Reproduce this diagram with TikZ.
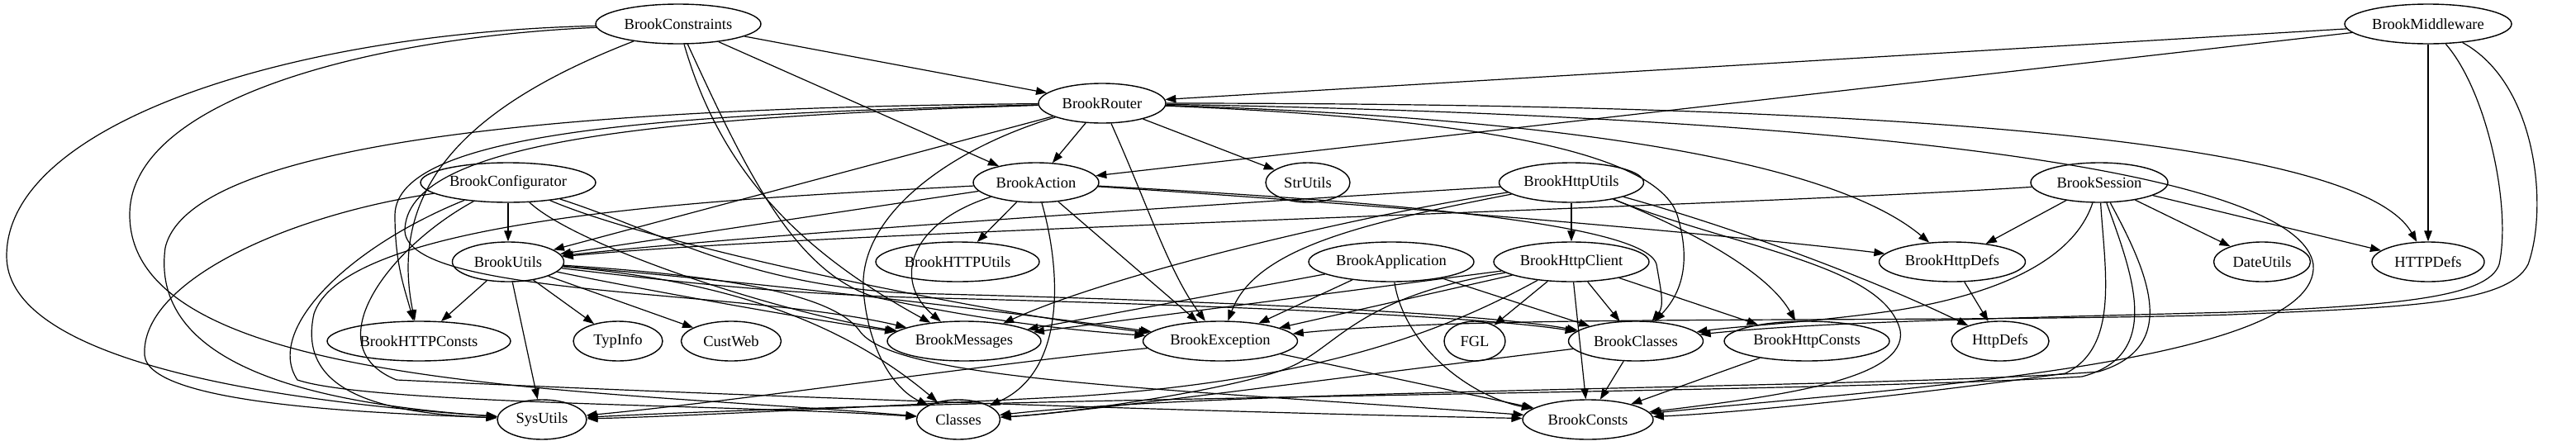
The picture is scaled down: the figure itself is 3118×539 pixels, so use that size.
\documentclass[tikz,border=0pt]{standalone}
\usepackage{fontspec}
\setmainfont{Liberation Serif}
\usetikzlibrary{shapes.geometric,arrows.meta}
\begin{document}
\begin{tikzpicture}[x=1pt,y=-1pt,
  nd/.style={draw,ellipse,line width=1.4pt,inner sep=0pt,minimum height=48pt,font=\fontsize{18.5}{20}\selectfont},
  e/.style={line width=1.2pt,-{Triangle[length=13pt,width=9.5pt]}}]
\useasboundingbox[fill=white] (0,0) rectangle (3118,539);
% nodes
\node[nd,minimum width=200pt] (C) at (821,29) {BrookConstraints};
\node[nd,minimum width=202pt] (M) at (2939,29) {BrookMiddleware};
\node[nd,minimum width=154pt] (R) at (1334,125) {BrookRouter};
\node[nd,minimum width=212pt] (F) at (615,221) {BrookConfigurator};
\node[nd,minimum width=152pt] (A) at (1254,221) {BrookAction};
\node[nd,minimum width=102pt] (SU) at (1583,221) {StrUtils};
\node[nd,minimum width=175pt] (H) at (1902,221) {BrookHttpUtils};
\node[nd,minimum width=166pt] (S) at (2541,221) {BrookSession};
\node[nd,minimum width=135pt] (U) at (615,317) {BrookUtils};
\node[nd,minimum width=198pt] (HU) at (1159,317) {BrookHTTPUtils};
\node[nd,minimum width=200pt] (P) at (1684,317) {BrookApplication};
\node[nd,minimum width=188pt] (K) at (1902,317) {BrookHttpClient};
\node[nd,minimum width=177pt] (HD) at (2363,317) {BrookHttpDefs};
\node[nd,minimum width=117pt] (DU) at (2738,317) {DateUtils};
\node[nd,minimum width=136pt] (TD) at (2939,317) {HTTPDefs};
\node[nd,minimum width=222pt] (HC) at (507,413) {BrookHTTPConsts};
\node[nd,minimum width=108pt] (TI) at (748,413) {TypInfo};
\node[nd,minimum width=121pt] (CW) at (885,413) {CustWeb};
\node[nd,minimum width=186pt] (MS) at (1167,413) {BrookMessages};
\node[nd,minimum width=187pt] (EX) at (1477,413) {BrookException};
\node[nd,minimum width=74pt] (FG) at (1785,413) {FGL};
\node[nd,minimum width=163pt] (BC) at (1980,413) {BrookClasses};
\node[nd,minimum width=200pt] (BHC) at (2187,413) {BrookHttpConsts};
\node[nd,minimum width=118pt] (HTD) at (2421,413) {HttpDefs};
\node[nd,minimum width=108pt] (SY) at (656,508) {SysUtils};
\node[nd,minimum width=101pt] (CL) at (1160,508) {Classes};
\node[nd,minimum width=158pt] (CO) at (1922,508) {BrookConsts};
% BrookConstraints
\draw[e] (C) -- (R);
\draw[e] (C) -- (A);
\draw[e] (C) .. controls (350,40) and (8,150) .. (8,310) .. controls (8,420) and (250,480) .. (SY);
\draw[e] (C) .. controls (450,45) and (157,120) .. (157,260) .. controls (157,470) and (700,470) .. (CL);
\draw[e] (C) .. controls (560,130) and (470,230) .. (HC);
\draw[e] (C) .. controls (870,200) and (960,300) .. (MS);
\draw[e] (C) .. controls (900,200) and (960,330) .. (1060,360) .. controls (1200,390) and (1300,400) .. (EX);
% BrookMiddleware
\draw[e] (M) -- (R);
\draw[e] (M) -- (A);
\draw[e] (M) -- (TD);
\draw[e] (M) .. controls (3010,110) and (3040,250) .. (3025,320) .. controls (3012,360) and (2900,370) .. (2700,378) .. controls (2400,386) and (2200,390) .. (BC);
\draw[e] (M) .. controls (3070,100) and (3085,250) .. (3060,320) .. controls (3035,370) and (2900,372) .. (2700,381) .. controls (2300,392) and (1800,380) .. (EX);
% BrookRouter
\draw[e] (R) -- (A);
\draw[e] (R) -- (SU);
\draw[e] (R) -- (U);
\draw[e] (R) .. controls (800,138) and (480,160) .. (478,260) .. controls (478,320) and (490,350) .. (HC);
\draw[e] (R) .. controls (700,130) and (230,170) .. (200,300) .. controls (180,450) and (400,490) .. (SY);
\draw[e] (R) .. controls (800,142) and (490,170) .. (490,280) .. controls (495,360) and (900,350) .. (MS);
\draw[e] (R) .. controls (1150,180) and (1040,260) .. (1045,350) .. controls (1050,420) and (1080,470) .. (CL);
\draw[e] (R) .. controls (1390,250) and (1415,330) .. (EX);
\draw[e] (R) .. controls (1700,140) and (2000,170) .. (2030,260) .. controls (2045,310) and (2040,350) .. (BC);
\draw[e] (R) .. controls (1800,140) and (2200,180) .. (HD);
\draw[e] (R) .. controls (2200,125) and (2850,160) .. (TD);
\draw[e] (R) .. controls (2200,140) and (2780,200) .. (2800,320) .. controls (2810,440) and (2300,470) .. (CO);
% BrookConfigurator
\draw[e] (F) -- (U);
\draw[e] (F) .. controls (350,260) and (170,340) .. (175,430) .. controls (180,490) and (450,500) .. (SY);
\draw[e] (F) .. controls (420,300) and (320,400) .. (360,460) .. controls (450,490) and (900,490) .. (CL);
\draw[e] (F) .. controls (470,300) and (380,420) .. (480,460) .. controls (900,480) and (1500,500) .. (CO);
\draw[e] (F) .. controls (700,300) and (950,380) .. (MS);
\draw[e] (F) .. controls (800,300) and (1200,380) .. (EX);
\draw[e] (F) .. controls (800,280) and (900,345) .. (1100,355) .. controls (1500,365) and (1800,380) .. (BC);
% BrookAction
\draw[e] (A) -- (U);
\draw[e] (A) .. controls (900,240) and (420,260) .. (380,380) .. controls (360,470) and (450,500) .. (SY);
\draw[e] (A) .. controls (1100,270) and (1080,340) .. (MS);
\draw[e] (A) -- (HU);
\draw[e] (A) .. controls (1285,330) and (1290,450) .. (CL);
\draw[e] (A) -- (EX);
\draw[e] (A) .. controls (1600,240) and (1990,265) .. (2005,320) .. controls (2010,350) and (2015,370) .. (BC);
\draw[e] (A) .. controls (1700,250) and (2100,285) .. (HD);
% BrookHttpUtils
\draw[e] (H) .. controls (1500,245) and (900,285) .. (U);
\draw[e] (H) .. controls (1650,260) and (1350,330) .. (MS);
\draw[e] (H) .. controls (1650,270) and (1520,300) .. (EX);
\draw[e] (H) -- (K);
\draw[e] (H) .. controls (2050,280) and (2140,330) .. (BHC);
\draw[e] (H) .. controls (2080,270) and (2250,330) .. (HTD);
\draw[e] (H) .. controls (2100,300) and (2280,320) .. (2300,400) .. controls (2310,460) and (2150,480) .. (CO);
% BrookSession
\draw[e] (S) .. controls (2100,250) and (1000,280) .. (U);
\draw[e] (S) -- (HD);
\draw[e] (S) .. controls (2515,300) and (2450,350) .. (2300,375) .. controls (2200,390) and (2100,395) .. (BC);
\draw[e] (S) .. controls (2548,330) and (2565,420) .. (2500,452) .. controls (2300,480) and (2100,500) .. (CO);
\draw[e] (S) .. controls (2600,330) and (2640,420) .. (2540,450) .. controls (2300,470) and (1500,470) .. (CL);
\draw[e] (S) .. controls (2580,330) and (2620,430) .. (2520,456) .. controls (2200,476) and (1200,480) .. (SY);
\draw[e] (S) -- (DU);
\draw[e] (S) -- (TD);
% BrookUtils
\draw[e] (U) -- (HC);
\draw[e] (U) -- (SY);
\draw[e] (U) -- (TI);
\draw[e] (U) -- (CW);
\draw[e] (U) .. controls (800,355) and (1000,390) .. (MS);
\draw[e] (U) .. controls (900,340) and (1200,375) .. (EX);
\draw[e] (U) .. controls (850,345) and (950,355) .. (1100,360) .. controls (1500,370) and (1800,384) .. (BC);
\draw[e] (U) .. controls (880,340) and (1020,390) .. (CL);
\draw[e] (U) .. controls (900,335) and (1010,360) .. (1040,400) .. controls (1080,460) and (1400,470) .. (CO);
% BrookApplication
\draw[e] (P) -- (MS);
\draw[e] (P) -- (EX);
\draw[e] (P) .. controls (1700,420) and (1780,480) .. (CO);
\draw[e] (P) -- (BC);
% BrookHttpClient
\draw[e] (K) -- (MS);
\draw[e] (K) -- (EX);
\draw[e] (K) .. controls (1640,360) and (1620,420) .. (1560,445) .. controls (1500,470) and (1300,500) .. (CL);
\draw[e] (K) .. controls (1750,400) and (1600,460) .. (1300,480) .. controls (1000,495) and (800,505) .. (SY);
\draw[e] (K) -- (FG);
\draw[e] (K) -- (CO);
\draw[e] (K) -- (BC);
\draw[e] (K) -- (BHC);
% others
\draw[e] (HD) -- (HTD);
\draw[e] (BHC) -- (CO);
\draw[e] (EX) .. controls (1200,440) and (900,485) .. (SY);
\draw[e] (EX) -- (CO);
\draw[e] (BC) .. controls (1600,460) and (1300,500) .. (CL);
\draw[e] (BC) -- (CO);
\end{tikzpicture}
\end{document}
